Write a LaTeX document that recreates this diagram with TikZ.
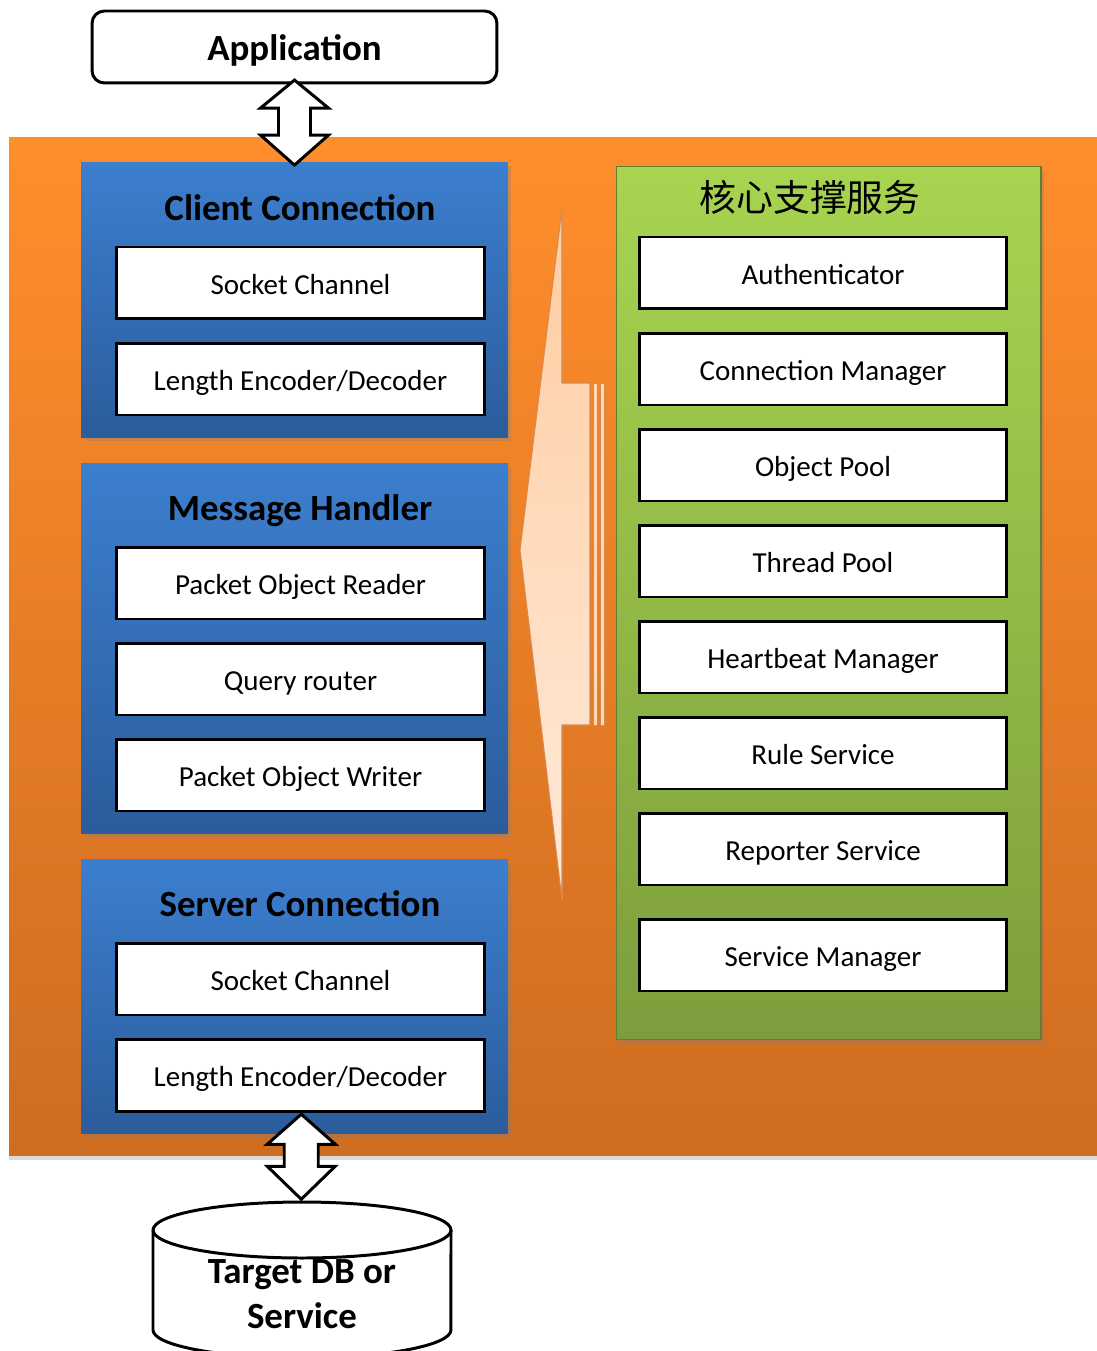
\documentclass[tikz,border=0pt]{standalone}
\usepackage{fontspec}
\setmainfont{Carlito}
\newfontfamily\cjk{Noto Sans CJK SC}
\usetikzlibrary{positioning,calc,shadows}

\definecolor{orangeT}{RGB}{255,142,44}
\definecolor{orangeB}{RGB}{206,108,32}
\definecolor{blueT}{RGB}{60,127,207}
\definecolor{blueB}{RGB}{43,92,155}
\definecolor{greenT}{RGB}{168,212,80}
\definecolor{greenB}{RGB}{124,157,60}
\definecolor{peachT}{RGB}{255,204,160}
\definecolor{peachB}{RGB}{255,234,218}

\tikzset{
  item/.style={draw=black, line width=1.7pt, fill=white, inner sep=0pt,
    minimum width=7.38cm, minimum height=1.44cm, text height=13.3pt, text depth=0.5pt,
    font=\fontsize{16.5}{20}\selectfont},
  gitem/.style={item, minimum width=7.36cm},
  title/.style={font=\fontsize{21}{25}\selectfont\bfseries, text height=15pt, text depth=0pt},
  bluebox/.style={top color=blueT, bottom color=blueB, inner sep=0pt,
    minimum width=8.54cm, drop shadow={opacity=.35, shadow xshift=2pt, shadow yshift=-2pt}},
  blockarrow/.style={draw=black, line width=1.7pt, fill=white, line join=miter},
}

\begin{document}
\begin{tikzpicture}[x=0.02cm, y=-0.02cm]
  \useasboundingbox (0,0) rectangle (1097,1351);

  % background
  \fill[top color=orangeT, bottom color=orangeB,
    drop shadow={opacity=.3, shadow xshift=0pt, shadow yshift=-3pt}]
    (9,138) rectangle (1097,1155);

  \node[draw, line width=1.7pt, rounded corners=7pt, fill=white,
    minimum width=8.1cm, minimum height=1.44cm, title] (app) at (294.5,47) {Application};

  % left column
  \node[bluebox, minimum height=5.52cm] (cc) at (294.5,300) {};
  \node[title] (cct) at (300,207) {Client Connection};
  \node[item] (cc1) at (300.5,283) {Socket Channel};
  \node[item] (cc2) at (300.5,379) {Length Encoder/Decoder};

  \node[bluebox, minimum height=7.42cm] (mh) at (294.5,648.5) {};
  \node[title] (mht) at (300,507) {Message Handler};
  \node[item] (mh1) at (300.5,583) {Packet Object Reader};
  \node[item] (mh2) at (300.5,679) {Query router};
  \node[item] (mh3) at (300.5,775) {Packet Object Writer};

  \node[bluebox, minimum height=5.5cm] (sc) at (294.5,996.5) {};
  \node[title] (sct) at (300,903) {Server Connection};
  \node[item] (sc1) at (300.5,979) {Socket Channel};
  \node[item] (sc2) at (300.5,1075) {Length Encoder/Decoder};

  % core services
  \node[top color=greenT, bottom color=greenB, draw=greenB!80!black, line width=.6pt,
    minimum width=8.5cm, minimum height=17.48cm, inner sep=0pt,
    drop shadow={opacity=.35, shadow xshift=2pt, shadow yshift=-2pt}] (gs) at (828.5,603) {};
  \node[font=\cjk\fontsize{21}{25}\selectfont] (gst) at (810,197) {核心支撑服务};
  \foreach \n/\y/\txt in {1/273/Authenticator, 2/369/Connection Manager, 3/465/Object Pool,
      4/561/Thread Pool, 5/657/Heartbeat Manager, 6/753/Rule Service,
      7/849/Reporter Service, 8/955/Service Manager}
    \node[gitem] (g\n) at (823,\y) {\txt};

  % big arrow
  \draw[top color=peachT, bottom color=peachB, draw=orangeB!80, line width=.6pt]
    (520,550) -- (562,208) -- (562,383) -- (590,383) -- (590,725) -- (562,725) -- (562,900) -- cycle;
  \foreach \x in {593,600}
    \draw[fill=peachT!60!peachB, draw=orangeB!80, line width=.5pt] (\x,383) rectangle ++(4,342);

  % double arrows
  \coordinate (up) at ($(app.south)!0.5!(cc.north)$);
  \draw[blockarrow, shift={(up)}] (0,-43) -- (34,-15) -- (16,-15) -- (16,12) -- (34,12)
    -- (0,42) -- (-34,12) -- (-16,12) -- (-16,-15) -- (-34,-15) -- cycle;

  \coordinate (dbtop) at (302,1202);
  \coordinate (down) at ($(sc2.south)!0.5!(dbtop)$);
  \draw[blockarrow, shift={(down)}] (0,-43) -- (34,-13) -- (17,-13) -- (17,9) -- (34,9)
    -- (0,42) -- (-34,9) -- (-17,9) -- (-17,-13) -- (-34,-13) -- cycle;

  % target
  \draw[fill=white, line width=1.7pt] (153,1230) -- (153,1330)
    arc[start angle=180, end angle=360, x radius=2.98cm, y radius=0.56cm] -- (451,1230)
    arc[start angle=0, end angle=180, x radius=2.98cm, y radius=0.56cm] -- cycle;
  \draw[line width=1.7pt] (153,1230)
    arc[start angle=180, end angle=360, x radius=2.98cm, y radius=0.56cm];
  \node[align=center, font=\fontsize{21}{26}\selectfont\bfseries] (db) at (302,1294)
    {Target DB or\\Service};
\end{tikzpicture}
\end{document}
